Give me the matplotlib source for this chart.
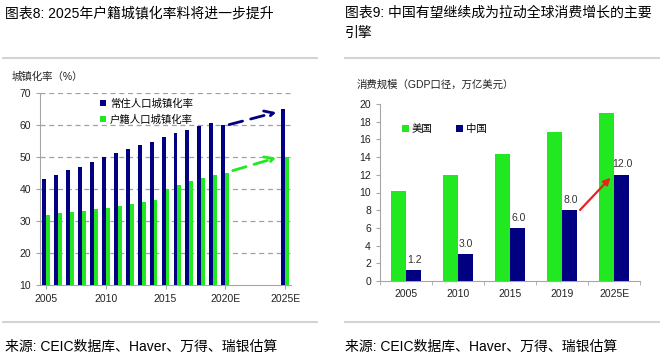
import matplotlib
matplotlib.use('Agg')
import matplotlib.pyplot as plt
from matplotlib.lines import Line2D

plt.rcParams['font.family'] = ['Liberation Sans', 'Noto Sans CJK SC', 'DejaVu Sans']

# ==== dados ====
anos = [2005, 2006, 2007, 2008, 2009, 2010, 2011, 2012, 2013, 2014,
        2015, 2016, 2017, 2018, 2019, 2020, 2025]
changzhu = [43.0, 44.3, 45.9, 47.0, 48.3, 50.0, 51.3, 52.6, 53.7, 54.8,
            56.1, 57.4, 58.5, 59.6, 60.6, 60.0, 65.0]
huji = [32.0, 32.4, 32.8, 33.2, 33.8, 34.2, 34.7, 35.3, 35.9, 36.6,
        39.9, 41.2, 42.4, 43.4, 44.4, 45.0, 50.0]
ticks_esq = [2005, 2010, 2015, 2020, 2025]
labels_esq = ['2005', '2010', '2015', '2020E', '2025E']

cats = ['2005', '2010', '2015', '2019', '2025E']
eua = [10.2, 12.0, 14.3, 16.8, 19.0]
china = [1.2, 3.0, 6.0, 8.0, 12.0]

azul = '#000080'
verde = '#22e822'
cinza = '#a6a6a6'

fig = plt.figure(figsize=(6.6, 3.63), dpi=100)

# ==== grafico esquerdo ====
ax1 = fig.add_axes([40/660, 1-285/363, 251/660, 192/363])
w = 0.33
ax1.bar([a - w/2 for a in anos], changzhu, width=w, color=azul, label='常住人口城镇化率', zorder=3)
ax1.bar([a + w/2 for a in anos], huji, width=w, color=verde, label='户籍人口城镇化率', zorder=3)
ax1.set_xlim(2004.5, 2025.5)
ax1.set_ylim(10, 70)
ax1.set_yticks(range(10, 71, 10))
ax1.set_xticks(ticks_esq)
ax1.set_xticklabels(labels_esq)
for y in range(20, 71, 10):
    ax1.axhline(y, color='#a0a0a0', lw=0.9, ls=(0, (4, 3)), zorder=1)
ax1.annotate('', xy=(2024.5, 64.2), xytext=(2020.1, 59.9),
             arrowprops=dict(arrowstyle='->', color=azul, lw=2, ls=(0, (5, 3)),
                             mutation_scale=16), zorder=4)
ax1.annotate('', xy=(2024.5, 50.0), xytext=(2020.4, 45.5),
             arrowprops=dict(arrowstyle='->', color=verde, lw=2, ls=(0, (5, 3)),
                             mutation_scale=16), zorder=4)
ax1.legend(loc='upper left', bbox_to_anchor=(0.2, 1.02), frameon=False,
           fontsize=7.5, handlelength=0.6, handleheight=0.6, handletextpad=0.4,
           labelspacing=0.55)

# ==== grafico direito ====
ax2 = fig.add_axes([380/660, 1-281/363, 260/660, 177/363])
x = list(range(len(cats)))
bw = 0.28
ax2.bar([i - bw/2 for i in x], eua, width=bw, color=verde, label='美国', zorder=3)
ax2.bar([i + bw/2 for i in x], china, width=bw, color=azul, label='中国', zorder=3)
for i, v in zip(x, china):
    ax2.text(i + bw/2 + 0.02, v + 0.6, f'{v:.1f}', ha='center', va='bottom',
             fontsize=7.5, color='#333333')
ax2.set_xlim(-0.5, 4.5)
ax2.set_ylim(0, 20)
ax2.set_yticks(range(0, 21, 2))
ax2.set_xticks(x)
ax2.set_xticklabels(cats)
ax2.set_xticks([i + 0.5 for i in range(-1, 5)], minor=True)
ax2.tick_params(axis='x', which='major', length=0, pad=6)
ax2.tick_params(axis='x', which='minor', length=3, color=cinza)
ax2.annotate('', xy=(3.97, 11.9), xytext=(3.31, 7.8),
             arrowprops=dict(arrowstyle='-|>', color='#e8231f', lw=1.6,
                             mutation_scale=10), zorder=4)
ax2.legend(loc='upper left', bbox_to_anchor=(0.05, 0.94), frameon=False, ncol=2,
           fontsize=7.5, handlelength=0.6, handleheight=0.6, handletextpad=0.3,
           columnspacing=2.3)

for ax in (ax1, ax2):
    for s in ('top', 'right'):
        ax.spines[s].set_visible(False)
    for s in ('left', 'bottom'):
        ax.spines[s].set_color(cinza)
    ax.tick_params(axis='both', labelsize=7.5, labelcolor='#222222', color=cinza)
    ax.tick_params(axis='y', length=3)
ax1.tick_params(axis='x', length=3)

# ==== textos ====
fig.text(12/660, 1-77/363, '城镇化率（%）', fontsize=7.5, va='center', color='#222222')
fig.text(357/660, 1-85/363, '消费规模（GDP口径，万亿美元）', fontsize=7.5, va='center', color='#222222')

fig.text(5/660, 1-13/363, '图表8: 2025年户籍城镇化率料将进一步提升', fontsize=10, va='center')
fig.text(345/660, 1-13/363, '图表9: 中国有望继续成为拉动全球消费增长的主要', fontsize=10, va='center')
fig.text(345/660, 1-33/363, '引擎', fontsize=10, va='center')
fig.text(5/660, 1-347/363, '来源: CEIC数据库、Haver、万得、瑞银估算', fontsize=10, va='center')
fig.text(345/660, 1-347/363, '来源: CEIC数据库、Haver、万得、瑞银估算', fontsize=10, va='center')

for yy in (1-58/363, 1-322/363):
    fig.add_artist(Line2D([3/660, 317/660], [yy, yy], color='#d4d4d4', lw=1.5))
    fig.add_artist(Line2D([345/660, 1.0], [yy, yy], color='#d4d4d4', lw=1.5))

fig.savefig('out.png', dpi=100)
